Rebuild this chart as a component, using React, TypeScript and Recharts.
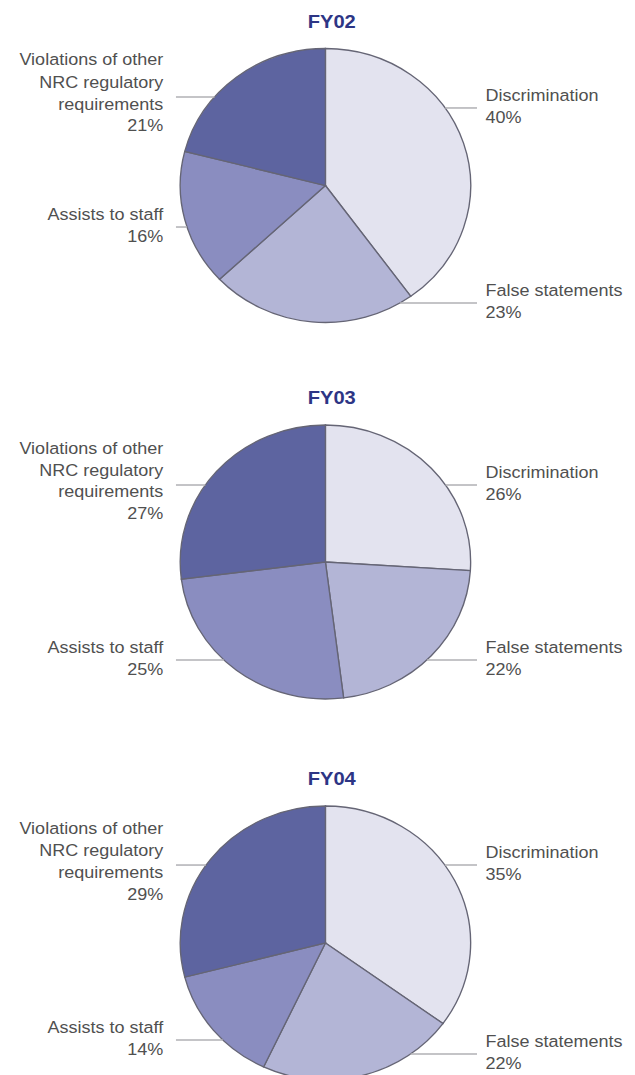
import React from 'react';
import { PieChart, Pie, Cell } from 'recharts';

// ---- data ----
const YEARS = ['FY02', 'FY03', 'FY04'];
const CATEGORIES = [
  'Discrimination',
  'False statements',
  'Assists to staff',
  'Violations of other NRC regulatory requirements',
];
const CATEGORY_LABEL_LINES = [
  ['Discrimination'],
  ['False statements'],
  ['Assists to staff'],
  ['Violations of other', 'NRC regulatory', 'requirements'],
];
const FY02_VALUES = [40, 23, 16, 21];
const FY03_VALUES = [26, 22, 25, 27];
const FY04_VALUES = [35, 22, 14, 29];

// ---- styles / layout ----
const COLORS = ['#e3e3ef', '#b3b5d6', '#8a8dc0', '#5d64a0'];
const SIDES = ['right', 'right', 'left', 'left'];
const STRETCH = 1.06;
const W = 635 / STRETCH;
const H = 1075;
const CX = 307;
const R = 137;
const CYS = [185.5, 562, 943];
const LABEL_ROW = [
  [-0.566, 0.858, 0.303, -0.646],
  [-0.562, 0.715, 0.715, -0.562],
  [-0.569, 0.81, 0.708, -0.569],
];
const RIGHT_LINE_END = 450;
const RIGHT_TEXT_X = 458;
const LEFT_LINE_END = 166;
const LEFT_TEXT_X = 154;
const FONT = 'Liberation Sans, Arial, Helvetica, sans-serif';

const buildData = (values: number[]) =>
  CATEGORIES.map((name, i) => ({ name, value: values[i], idx: i }));

const makeLabel = (rows: number[]) => (props: any) => {
  const { cx, cy, outerRadius, index } = props;
  const value = props.value ?? props.payload?.value;
  const f = rows[index];
  const y = cy + f * outerRadius;
  const edge = outerRadius * Math.sqrt(Math.max(0, 1 - f * f));
  const right = SIDES[index] === 'right';
  const lines = [...CATEGORY_LABEL_LINES[index], `${value}%`];
  const n = lines.length;
  const center = y + (n === 4 ? -4.5 : -2);
  const x1 = right ? cx + edge : LEFT_LINE_END;
  const x2 = right ? RIGHT_LINE_END : cx - edge;
  return (
    <g key={`lab-${index}`}>
      <line x1={x1} y1={y} x2={x2} y2={y} stroke="#b0b0b4" strokeWidth={1.5} />
      <text
        x={right ? RIGHT_TEXT_X : LEFT_TEXT_X}
        textAnchor={right ? 'start' : 'end'}
        fontFamily={FONT}
        fontSize={17}
        fill="#505050"
      >
        {lines.map((t, k) => (
          <tspan key={k} x={right ? RIGHT_TEXT_X : LEFT_TEXT_X} y={center + (k - (n - 1) / 2) * 22 + 6}>
            {t}
          </tspan>
        ))}
      </text>
    </g>
  );
};

const SERIES = [FY02_VALUES, FY03_VALUES, FY04_VALUES];

export default function App() {
  return (
    <div
      style={{
        position: 'absolute',
        left: 0,
        top: 0,
        width: W,
        height: H,
        transform: `scaleX(${STRETCH})`,
        transformOrigin: '0 0',
        background: '#fff',
      }}
    >
      <PieChart width={W} height={H} margin={{ top: 0, right: 0, bottom: 0, left: 0 }}>
        {SERIES.map((vals, p) => (
          <Pie
            key={YEARS[p]}
            data={buildData(vals)}
            dataKey="value"
            nameKey="name"
            cx={CX}
            cy={CYS[p]}
            outerRadius={R}
            startAngle={90}
            endAngle={-270}
            stroke="#656575"
            strokeWidth={1.3}
            label={makeLabel(LABEL_ROW[p])}
            labelLine={false}
            isAnimationActive={false}
          >
            {vals.map((_, i) => (
              <Cell key={i} fill={COLORS[i]} />
            ))}
          </Pie>
        ))}
        {YEARS.map((y, p) => (
          <text
            key={y}
            x={CX + 6}
            y={CYS[p] - 158}
            textAnchor="middle"
            fontFamily={FONT}
            fontWeight="bold"
            fontSize={19}
            fill="#2d3585"
          >
            {y}
          </text>
        ))}
      </PieChart>
    </div>
  );
}
